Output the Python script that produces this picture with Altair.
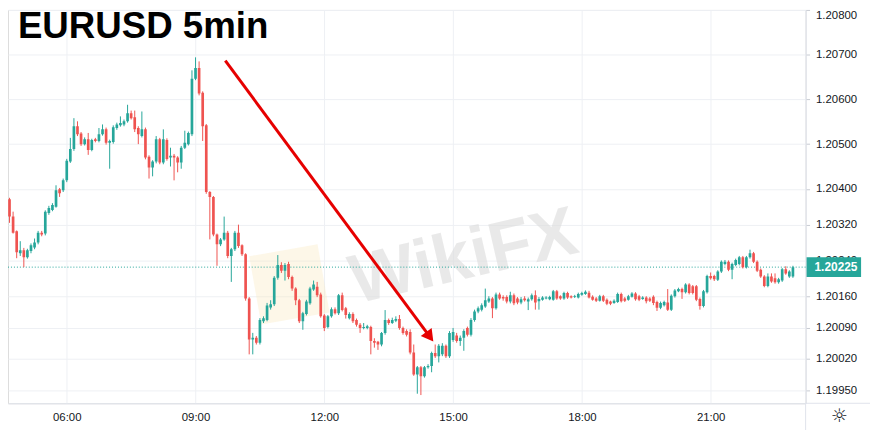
import altair as alt
import pandas as pd

# ---- data (prices in units of 0.00001 above 1.20000) ----
opens = [380,377,338,305,256,263,247,261,269,280,
         302,300,346,353,360,399,397,419,461,489,
         540,524,500,511,487,511,507,522,533,503,
         505,536,542,544,551,569,560,536,518,533,
         472,448,461,511,459,509,470,474,470,459,
         492,500,522,646,670,615,542,393,382,298,
         276,287,302,250,265,302,274,254,155,63,
         67,56,104,107,135,142,201,230,217,232,
         203,177,151,104,120,144,175,181,164,117,
         91,115,131,122,162,133,111,120,107,96,
         89,89,91,60,58,52,78,107,100,105,
         109,89,82,80,34,-15,1,-19,1,4,
         33,26,30,49,26,62,72,60,67,89,
         74,107,126,130,137,148,155,133,164,158,
         158,148,162,155,146,155,148,153,162,149,
         152,155,153,152,171,160,155,167,160,158,
         157,163,165,168,159,155,150,160,152,148,
         145,147,165,155,152,159,166,160,154,157,
         155,159,147,134,140,146,130,160,171,176,
         169,186,182,182,154,138,169,205,205,197,
         215,232,237,219,230,232,247,225,247,256,
         237,219,204,183,204,200,191,195,220,204,
         204]
highs = [397,380,349,307,283,268,266,278,289,306,
         306,352,362,368,408,402,423,467,514,558,
         551,527,515,525,512,514,536,544,537,510,
         542,548,562,555,588,575,575,540,573,537,
         475,464,518,514,533,513,492,478,473,496,
         530,528,665,694,685,618,545,395,384,300,
         290,338,306,268,306,320,276,256,158,78,
         71,111,115,145,151,205,252,236,234,237,
         206,180,154,125,152,181,195,192,168,120,
         118,135,135,165,168,136,124,124,110,100,
         100,96,94,66,60,80,129,110,112,115,
         118,92,86,86,52,4,4,4,8,36,
         52,53,55,52,82,89,78,72,86,92,
         111,130,137,144,177,160,158,168,168,162,
         162,170,166,158,158,160,157,166,173,158,
         160,160,161,174,174,162,170,170,162,163,
         168,170,173,172,162,158,163,163,155,150,
         153,168,168,158,163,169,169,163,160,160,
         158,162,150,148,150,176,164,176,179,179,
         189,189,185,185,157,174,208,213,208,218,
         240,241,240,235,244,250,250,250,264,259,
         240,222,207,211,211,211,201,223,227,218,
         228]
lows = [375,324,300,245,250,225,244,256,265,276,
        294,296,342,350,358,382,393,415,458,485,
        518,496,497,476,484,504,504,519,499,445,
        501,532,539,540,548,555,527,500,515,466,
        423,428,457,455,455,463,450,419,437,445,
        489,497,518,643,609,507,389,287,294,228,
        272,284,245,192,261,268,250,150,30,30,
        52,52,100,104,130,138,197,212,195,198,
        172,140,100,85,117,141,172,158,112,82,
        88,112,119,118,126,110,108,100,92,78,
        86,86,30,45,40,48,74,96,98,102,
        85,74,70,30,-18,-58,-61,-22,-2,-10,
        22,12,26,22,22,58,56,49,38,70,
        70,103,122,126,134,145,111,130,152,150,
        144,144,140,142,142,148,129,150,130,130,
        150,153,151,150,152,152,152,154,155,156,
        155,161,163,155,150,147,148,147,140,140,
        143,145,146,147,150,157,150,149,152,144,
        147,140,127,131,137,127,127,157,169,154,
        166,164,164,149,130,135,166,197,194,194,
        212,229,216,198,227,229,222,222,244,234,
        214,201,180,180,190,188,188,192,208,201,
        201]
closes = [377,338,302,258,263,247,263,274,280,302,
          298,349,357,364,397,390,419,463,489,540,
          522,500,511,487,509,507,522,533,503,507,
          538,544,547,551,569,558,533,522,533,470,
          448,461,511,459,511,467,474,470,459,492,
          503,525,646,670,613,540,393,382,298,276,
          287,302,250,265,302,272,254,155,63,67,
          56,107,111,139,142,201,230,217,230,203,
          177,151,104,122,148,177,186,162,115,89,
          115,131,122,162,129,118,120,104,96,89,
          91,93,60,56,52,78,107,100,107,109,
          89,78,74,34,-15,1,-19,1,4,33,
          26,49,49,26,78,80,60,67,82,74,
          107,126,133,140,151,155,133,164,155,155,
          148,162,144,146,153,151,153,162,146,154,
          157,157,158,171,155,155,167,157,157,160,
          165,167,170,157,152,150,160,150,143,143,
          150,165,149,150,160,166,153,152,157,149,
          150,145,134,145,147,130,161,173,176,169,
          186,167,167,152,138,171,205,200,198,215,
          237,237,219,232,241,247,225,247,256,237,
          217,204,183,204,193,191,198,220,211,215,
          225]

start_minute = 4 * 60 + 35      # first candle 04:35
step_minutes = 5
last_price = 1.20225
y_ticks = [1.1995, 1.2002, 1.2009, 1.2016, 1.2024, 1.2032, 1.2040,
           1.2050, 1.2060, 1.2070, 1.2080]
x_ticks = [360, 540, 720, 900, 1080, 1260]   # 06:00 ... 21:00
title_text = "EURUSD 5min"
watermark_text = "WikiFX"
arrow_from = (581.6, 1.206867)   # (minutes, price)
arrow_to = (867.4, 1.200694)

UP = "#26a69a"
DOWN = "#ef5350"

n = len(closes)
df = pd.DataFrame({
    "t": [start_minute + step_minutes * i for i in range(n)],
    "open": [1.2 + v / 1e5 for v in opens],
    "high": [1.2 + v / 1e5 for v in highs],
    "low": [1.2 + v / 1e5 for v in lows],
    "close": [1.2 + v / 1e5 for v in closes],
})
df["dir"] = ["up" if c >= o else "down" for o, c in zip(opens, closes)]

W, H = 805, 397
xs = alt.Scale(domain=[284.8, 1385.8], nice=False, zero=False)
ys = alt.Scale(domain=[1.199206, 1.2080], nice=False, zero=False)

label_expr = ("(floor(datum.value/60) < 10 ? '0' : '') + floor(datum.value/60) + ':' + "
              "(datum.value % 60 < 10 ? '0' : '') + (datum.value % 60)")
x_axis = alt.Axis(values=x_ticks, labelExpr=label_expr, title=None, ticks=False,
                  labelPadding=8, grid=True, gridColor="#eef0f4", domainColor="#e0e3eb",
                  labelFontSize=11.5, labelColor="#131722", labelFont="Liberation Sans")
y_axis = alt.Axis(orient="right", values=y_ticks, format=".5f", title=None, tickSize=4,
                  tickColor="#c8cbd2", labelPadding=6, grid=True, gridColor="#eef0f4",
                  domainColor="#e0e3eb", labelFontSize=11.5, labelColor="#131722",
                  labelFont="Liberation Sans", labelFlush=True)

color = alt.Color("dir:N", scale=alt.Scale(domain=["up", "down"], range=[UP, DOWN]), legend=None)

base = alt.Chart(df)

wicks = base.mark_rule(strokeWidth=1, clip=True).encode(
    x=alt.X("t:Q", scale=xs, axis=x_axis),
    y=alt.Y("low:Q", scale=ys, axis=y_axis),
    y2="high:Q",
    color=color,
)
bodies = base.mark_bar(size=2.7, clip=True).encode(
    x=alt.X("t:Q", scale=xs, axis=x_axis),
    y=alt.Y("open:Q", scale=ys, axis=y_axis),
    y2="close:Q",
    color=color,
)

# watermark
wm_df = pd.DataFrame({"label": [watermark_text]})
watermark = alt.Chart(wm_df).mark_text(
    font="Liberation Sans", fontSize=70, fontWeight="bold", color="#dcdcdc",
    opacity=0.6, angle=347, align="center", baseline="middle"
).encode(text="label:N", x=alt.value(460), y=alt.value(250))
logo = alt.Chart(wm_df).mark_point(
    shape="square", filled=True, size=4900, color="#f8e9bd", opacity=0.35, angle=350
).encode(x=alt.value(284), y=alt.value(277))

# last price dotted line and label
lp_df = pd.DataFrame({"price": [last_price], "lo": [last_price - 0.00022],
                      "hi": [last_price + 0.00022], "label": [f"{last_price:.5f}"]})
lp_line = alt.Chart(lp_df).mark_rule(color=UP, strokeDash=[1, 2], strokeWidth=1).encode(
    y=alt.Y("price:Q", scale=ys, axis=y_axis))
lp_box = alt.Chart(lp_df).mark_rect(color=UP, clip=False).encode(
    x=alt.value(W + 1), x2=alt.value(W + 56),
    y=alt.Y("hi:Q", scale=ys, axis=y_axis), y2="lo:Q")
lp_text = alt.Chart(lp_df).mark_text(
    color="white", fontSize=12, fontWeight="bold", font="Liberation Sans",
    align="left", baseline="middle", clip=False
).encode(x=alt.value(W + 9), y=alt.Y("price:Q", scale=ys, axis=y_axis), text="label:N")

# arrow
arr_df = pd.DataFrame({"t1": [arrow_from[0]], "p1": [arrow_from[1]],
                       "t2": [arrow_to[0]], "p2": [arrow_to[1]]})
arrow_line = alt.Chart(arr_df).mark_rule(color="#e60000", strokeWidth=3).encode(
    x=alt.X("t1:Q", scale=xs, axis=x_axis), x2="t2:Q",
    y=alt.Y("p1:Q", scale=ys, axis=y_axis), y2="p2:Q")
arrow_head = alt.Chart(arr_df).mark_point(
    shape="triangle-up", filled=True, color="#e60000", size=190, angle=143, opacity=1
).encode(x=alt.X("t2:Q", scale=xs, axis=x_axis), y=alt.Y("p2:Q", scale=ys, axis=y_axis))

# title
t_df = pd.DataFrame({"label": [title_text]})
title = alt.Chart(t_df).mark_text(
    font="Liberation Sans", fontSize=37, fontWeight="bold", color="#000000",
    align="left", baseline="alphabetic"
).encode(text="label:N", x=alt.value(10), y=alt.value(28))

# frame extras: bottom line under price scale, separator, gear
frame_df = pd.DataFrame({"g": ["\u263c"]})
bottom_ext = alt.Chart(frame_df).mark_rule(color="#e0e3eb").encode(
    x=alt.value(W), x2=alt.value(W + 70), y=alt.value(H))
sep = alt.Chart(frame_df).mark_rule(color="#e0e3eb").encode(
    x=alt.value(W), y=alt.value(H), y2=alt.value(H + 30))
gear = alt.Chart(frame_df).mark_text(
    fontSize=19, color="#131722", font="DejaVu Sans", align="center", baseline="middle"
).encode(text="g:N", x=alt.value(W + 34), y=alt.value(H + 13))

chart = alt.layer(
    logo, watermark, lp_line, wicks, bodies, arrow_line, arrow_head,
    lp_box, lp_text, title, bottom_ext, sep, gear
).properties(
    width=W, height=H,
    autosize=alt.AutoSizeParams(type="none"),
    padding={"left": 0, "top": 0, "right": 65, "bottom": 25},
).configure_view(stroke=None).configure(background="white")

chart.save("out.html", embed_options={"renderer": "svg", "actions": False})
